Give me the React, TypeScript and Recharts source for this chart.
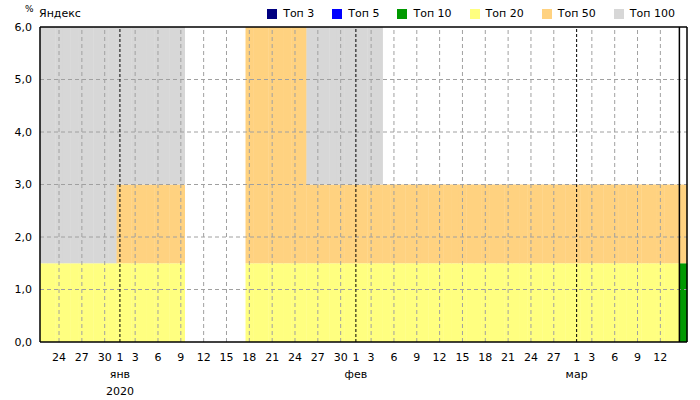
import { BarChart, Bar, XAxis, YAxis, ReferenceLine } from 'recharts'

// days on the axis, by month
const decDays = [22, 23, 24, 25, 26, 27, 28, 29, 30, 31]
const janDays = [1, 2, 3, 4, 5, 6, 7, 8, 9, 10, 11, 12, 13, 14, 15, 16, 17, 18, 19, 20, 21, 22, 23, 24, 25, 26, 27, 28, 29, 30, 31]
const febDays = [1, 2, 3, 4, 5, 6, 7, 8, 9, 10, 11, 12, 13, 14, 15, 16, 17, 18, 19, 20, 21, 22, 23, 24, 25, 26, 27, 28, 29]
const marDays = [1, 2, 3, 4, 5, 6, 7, 8, 9, 10, 11, 12, 13, 14, 15]

const months = [
  { key: '2019-12', days: decDays, name: '', year: '' },
  { key: '2020-01', days: janDays, name: 'янв', year: '2020' },
  { key: '2020-02', days: febDays, name: 'фев', year: '' },
  { key: '2020-03', days: marDays, name: 'мар', year: '' },
]

const tickDays = [
  '2019-12-24', '2019-12-27', '2019-12-30',
  '2020-01-01', '2020-01-03', '2020-01-06', '2020-01-09', '2020-01-12', '2020-01-15', '2020-01-18',
  '2020-01-21', '2020-01-24', '2020-01-27', '2020-01-30',
  '2020-02-01', '2020-02-03', '2020-02-06', '2020-02-09', '2020-02-12', '2020-02-15', '2020-02-18',
  '2020-02-21', '2020-02-24', '2020-02-27',
  '2020-03-01', '2020-03-03', '2020-03-06', '2020-03-09', '2020-03-12',
]
const monthStarts = ['2020-01-01', '2020-02-01', '2020-03-01']
const yTicks = [0, 1, 2, 3, 4, 5, 6]

// % of queries per position group, daily (Dec 22 .. Mar 15)
const top3 = [
  0, 0, 0, 0, 0, 0, 0, 0, 0, 0,
  0, 0, 0, 0, 0, 0, 0, 0, 0, 0, 0, 0, 0, 0, 0, 0, 0, 0, 0, 0, 0, 0, 0, 0, 0, 0, 0, 0, 0, 0, 0,
  0, 0, 0, 0, 0, 0, 0, 0, 0, 0, 0, 0, 0, 0, 0, 0, 0, 0, 0, 0, 0, 0, 0, 0, 0, 0, 0, 0, 0,
  0, 0, 0, 0, 0, 0, 0, 0, 0, 0, 0, 0, 0, 0, 0,
]
const top5 = [
  0, 0, 0, 0, 0, 0, 0, 0, 0, 0,
  0, 0, 0, 0, 0, 0, 0, 0, 0, 0, 0, 0, 0, 0, 0, 0, 0, 0, 0, 0, 0, 0, 0, 0, 0, 0, 0, 0, 0, 0, 0,
  0, 0, 0, 0, 0, 0, 0, 0, 0, 0, 0, 0, 0, 0, 0, 0, 0, 0, 0, 0, 0, 0, 0, 0, 0, 0, 0, 0, 0,
  0, 0, 0, 0, 0, 0, 0, 0, 0, 0, 0, 0, 0, 0, 0,
]
const top10 = [
  0, 0, 0, 0, 0, 0, 0, 0, 0, 0,
  0, 0, 0, 0, 0, 0, 0, 0, 0, 0, 0, 0, 0, 0, 0, 0, 0, 0, 0, 0, 0, 0, 0, 0, 0, 0, 0, 0, 0, 0, 0,
  0, 0, 0, 0, 0, 0, 0, 0, 0, 0, 0, 0, 0, 0, 0, 0, 0, 0, 0, 0, 0, 0, 0, 0, 0, 0, 0, 0, 0,
  0, 0, 0, 0, 0, 0, 0, 0, 0, 0, 0, 0, 0, 0, 1.5,
]
const top20 = [
  1.5, 1.5, 1.5, 1.5, 1.5, 1.5, 1.5, 1.5, 1.5, 1.5,
  1.5, 1.5, 1.5, 1.5, 1.5, 1.5, 1.5, 1.5, 1.5, 0, 0, 0, 0, 0, 0, 0, 0, 1.5, 1.5, 1.5, 1.5, 1.5, 1.5, 1.5, 1.5, 1.5, 1.5, 1.5, 1.5, 1.5, 1.5,
  1.5, 1.5, 1.5, 1.5, 1.5, 1.5, 1.5, 1.5, 1.5, 1.5, 1.5, 1.5, 1.5, 1.5, 1.5, 1.5, 1.5, 1.5, 1.5, 1.5, 1.5, 1.5, 1.5, 1.5, 1.5, 1.5, 1.5, 1.5, 1.5,
  1.5, 1.5, 1.5, 1.5, 1.5, 1.5, 1.5, 1.5, 1.5, 1.5, 1.5, 1.5, 1.5, 1.5, 0,
]
const top50 = [
  0, 0, 0, 0, 0, 0, 0, 0, 0, 0,
  1.5, 1.5, 1.5, 1.5, 1.5, 1.5, 1.5, 1.5, 1.5, 0, 0, 0, 0, 0, 0, 0, 0, 4.5, 4.5, 4.5, 4.5, 4.5, 4.5, 4.5, 4.5, 1.5, 1.5, 1.5, 1.5, 1.5, 1.5,
  1.5, 1.5, 1.5, 1.5, 1.5, 1.5, 1.5, 1.5, 1.5, 1.5, 1.5, 1.5, 1.5, 1.5, 1.5, 1.5, 1.5, 1.5, 1.5, 1.5, 1.5, 1.5, 1.5, 1.5, 1.5, 1.5, 1.5, 1.5, 1.5,
  1.5, 1.5, 1.5, 1.5, 1.5, 1.5, 1.5, 1.5, 1.5, 1.5, 1.5, 1.5, 1.5, 1.5, 1.5,
]
const top100 = [
  4.5, 4.5, 4.5, 4.5, 4.5, 4.5, 4.5, 4.5, 4.5, 4.5,
  3, 3, 3, 3, 3, 3, 3, 3, 3, 0, 0, 0, 0, 0, 0, 0, 0, 0, 0, 0, 0, 0, 0, 0, 0, 3, 3, 3, 3, 3, 3,
  3, 3, 3, 3, 0, 0, 0, 0, 0, 0, 0, 0, 0, 0, 0, 0, 0, 0, 0, 0, 0, 0, 0, 0, 0, 0, 0, 0, 0,
  0, 0, 0, 0, 0, 0, 0, 0, 0, 0, 0, 0, 0, 0, 0,
]

const series = [
  { key: 'top3', name: 'Топ 3', color: '#000080', values: top3 },
  { key: 'top5', name: 'Топ 5', color: '#0000ff', values: top5 },
  { key: 'top10', name: 'Топ 10', color: '#009900', values: top10 },
  { key: 'top20', name: 'Топ 20', color: '#ffff80', values: top20 },
  { key: 'top50', name: 'Топ 50', color: '#ffd280', values: top50 },
  { key: 'top100', name: 'Топ 100', color: '#d7d7d7', values: top100 },
]

const pad = (n: number) => (n < 10 ? '0' + n : '' + n)

const dates = months.flatMap((m) => m.days.map((d) => `${m.key}-${pad(d)}`))

const data = dates.map((date, i) => {
  const row: Record<string, any> = { date }
  series.forEach((s) => (row[s.key] = s.values[i]))
  return row
})

const FONT = '"DejaVu Sans", Verdana, sans-serif'
const lastDay = dates[dates.length - 1]

function DayTick(props: any) {
  const { x, y, payload } = props
  const v: string = payload.value
  const day = Number(v.slice(8))
  const m = months.find((mm) => mm.key === v.slice(0, 7))
  return (
    <g>
      <text x={x} y={y + 11} textAnchor="middle" fontSize={11} fontFamily={FONT} fill="#000">
        {day}
      </text>
      {day === 1 && m && (
        <text x={x} y={y + 28} textAnchor="middle" fontSize={11} fontFamily={FONT} fill="#000">
          {m.name}
        </text>
      )}
      {day === 1 && m && m.year && (
        <text x={x} y={y + 45} textAnchor="middle" fontSize={11} fontFamily={FONT} fill="#000">
          {m.year}
        </text>
      )}
    </g>
  )
}

export default function App() {
  return (
    <div style={{ position: 'absolute', left: 0, top: 0, width: 700, height: 400, fontFamily: FONT, background: '#fff' }}>
      <div style={{ position: 'absolute', left: 25, top: 4, fontSize: 9 }}>%</div>
      <div style={{ position: 'absolute', left: 39, top: 7, fontSize: 11 }}>Яндекс</div>
      <div style={{ position: 'absolute', right: 25, top: 7, display: 'flex', gap: 18, fontSize: 11 }}>
        {series.map((s) => (
          <div key={s.key} style={{ display: 'flex', alignItems: 'center', gap: 6 }}>
            <span style={{ width: 10, height: 10, background: s.color, display: 'inline-block' }} />
            <span>{s.name}</span>
          </div>
        ))}
      </div>
      <BarChart
        width={700}
        height={400}
        data={data}
        barCategoryGap={0}
        barGap={0}
        margin={{ top: 27, right: 13, bottom: 0, left: 0 }}
      >
        <XAxis
          dataKey="date"
          ticks={tickDays}
          interval={0}
          tickLine={false}
          axisLine={{ stroke: '#000', strokeWidth: 1.5 }}
          height={58}
          tick={<DayTick />}
        />
        <YAxis
          domain={[0, 6]}
          ticks={yTicks}
          width={40}
          tickLine={false}
          axisLine={{ stroke: '#000', strokeWidth: 1.5 }}
          tick={{ fontSize: 11, fill: '#000', fontFamily: FONT }}
          tickFormatter={(v: number) => v.toFixed(1).replace('.', ',')}
        />
        {series.map((s) => (
          <Bar key={s.key} dataKey={s.key} name={s.name} stackId="a" fill={s.color} isAnimationActive={false} />
        ))}
        {[1, 2, 3, 4, 5].map((v) => (
          <ReferenceLine key={'h' + v} y={v} stroke="#a0a0a0" strokeDasharray="4 3" />
        ))}
        {tickDays
          .filter((d) => !monthStarts.includes(d))
          .map((d) => (
            <ReferenceLine key={'v' + d} x={d} stroke="#a0a0a0" strokeDasharray="4 3" />
          ))}
        {monthStarts.map((d) => (
          <ReferenceLine key={'m' + d} x={d} stroke="#000" strokeDasharray="3 2" />
        ))}
        <ReferenceLine x={lastDay} position="start" stroke="#000" strokeWidth={1.5} />
        <ReferenceLine x={lastDay} position="end" stroke="#000" strokeWidth={1.5} />
        <ReferenceLine y={6} stroke="#000" strokeWidth={1.5} />
      </BarChart>
    </div>
  )
}
